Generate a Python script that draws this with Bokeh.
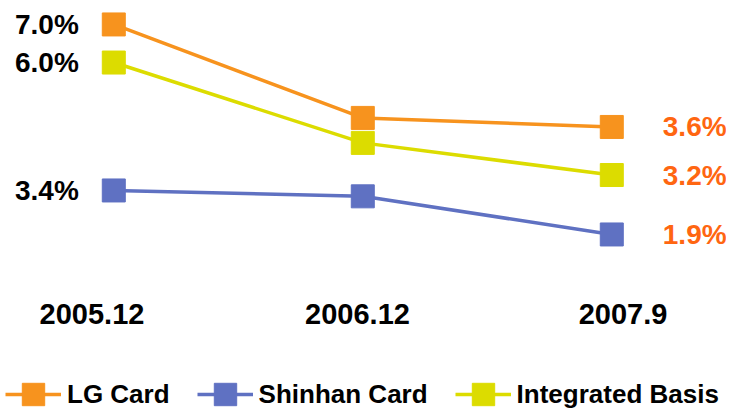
from bokeh.plotting import figure
from bokeh.models import Range1d, Legend, LegendItem
from bokeh.core.properties import value
from bokeh.embed import file_html
from bokeh.resources import INLINE

# ---- data ----
periods = ["2005.12", "2006.12", "2007.9"]
lg_card = [7.0, 3.9, 3.6]
shinhan_card = [3.4, 3.2, 1.9]
integrated_basis = [6.0, 4.0, 3.2]

# ---- style ----
FONT = "Liberation Sans"
C_LG = "#F7931E"
C_SH = "#5F71C2"
C_IN = "#DCDC00"
C_RIGHT = "#FF6611"

xs = list(range(len(periods)))

p = figure(width=726, height=409, output_backend="svg", toolbar_location=None,
           x_range=Range1d(-0.455, 2.4607), y_range=Range1d(-5.771, 7.794),
           x_axis_location=None, y_axis_location=None,
           min_border=0, min_border_left=0, min_border_right=0,
           min_border_top=0, min_border_bottom=0,
           outline_line_color=None, background_fill_color="white",
           border_fill_color="white")
p.grid.visible = False

# The original chart draws each series on its own vertical scale
p.extra_y_ranges = {
    "shinhan": Range1d(-4.068, 9.877),
    "integrated": Range1d(-2.636, 7.544),
    "layout": Range1d(409, 0),
}
p.extra_x_ranges = {"cat": Range1d(-0.3446, 2.3899)}

series = [
    ("LG Card", lg_card, C_LG, "default"),
    ("Shinhan Card", shinhan_card, C_SH, "shinhan"),
    ("Integrated Basis", integrated_basis, C_IN, "integrated"),
]

items = []
for name, vals, color, rname in series:
    ln = p.line(xs, vals, line_color=color, line_width=3.5, y_range_name=rname)
    sc = p.scatter(xs, vals, marker="square", size=23, fill_color=color,
                   line_color=color, line_width=1, y_range_name=rname)
    items.append(LegendItem(label=name, renderers=[ln, sc]))
    # first value label (left, black)
    p.text(x=[xs[0]], y=[vals[0]], text=[f"{vals[0]:.1f}%"],
           text_font=value(FONT), text_font_style="bold", text_font_size="28px",
           text_color="black", text_align="right", text_baseline="middle",
           x_offset=-35, y_range_name=rname)
    # last value label (right, orange)
    p.text(x=[xs[-1]], y=[vals[-1]], text=[f"{vals[-1]:.1f}%"],
           text_font=value(FONT), text_font_style="bold", text_font_size="28px",
           text_color=C_RIGHT, text_align="left", text_baseline="middle",
           x_offset=51, y_range_name=rname)

# category labels
p.text(x=xs, y=[313] * len(xs), text=periods,
       text_font=value(FONT), text_font_style="bold", text_font_size="29px",
       text_color="black", text_align="center", text_baseline="middle",
       x_range_name="cat", y_range_name="layout")

legend = Legend(items=items, orientation="horizontal", location=(5, -13),
                glyph_width=56, glyph_height=56, label_standoff=6, spacing=27,
                padding=0, margin=0, border_line_alpha=0, background_fill_alpha=0,
                label_text_font=FONT, label_text_font_style="bold",
                label_text_font_size="26px", label_text_color="black")
p.add_layout(legend)

open("out.html", "w").write(file_html(p, INLINE))
